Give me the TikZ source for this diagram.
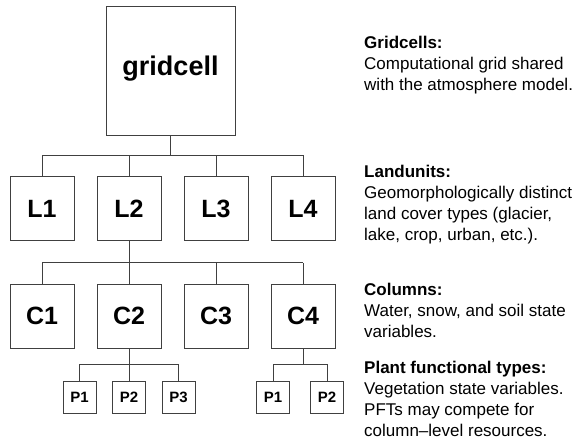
\documentclass[tikz,border=0pt]{standalone}
\usepackage{fontspec}
\setmainfont{Liberation Sans}
\usetikzlibrary{positioning}

\tikzset{
  bigbox/.style={draw=black!75,line width=1pt,minimum size=64pt,inner sep=0pt,
    font=\bfseries\fontsize{25}{30}\selectfont},
  smallbox/.style={draw=black!75,line width=1pt,minimum width=33pt,minimum height=32pt,
    inner sep=0pt,font=\bfseries\fontsize{15}{18}\selectfont},
  link/.style={draw=black!75,line width=1pt},
  desc/.style={anchor=base west,align=left,inner sep=0pt,
    font=\fontsize{17}{21}\selectfont}
}

\begin{document}
\begin{tikzpicture}[x=1pt,y=-1pt]
            \useasboundingbox (0,0) rectangle (573,442);
            % gridcell
            \node[bigbox,minimum size=129pt,font=\bfseries\fontsize{27}{30}\selectfont,
                  text height=19.7pt,text depth=9pt,anchor=north] (grid) at (170.5,5.5) {gridcell};
            % landunits
            \node[bigbox] (L1) at (42,208.8) {L1};
            \node[bigbox,right=22pt of L1] (L2) {L2};
            \node[bigbox,right=22pt of L2] (L3) {L3};
            \node[bigbox,right=22pt of L3] (L4) {L4};
            % columns
            \node[bigbox] (C1) at (42,316) {C1};
            \node[bigbox,right=22pt of C1] (C2) {C2};
            \node[bigbox,right=22pt of C2] (C3) {C3};
            \node[bigbox,right=22pt of C3] (C4) {C4};
            % pfts
            \node[smallbox] (pa1) at (79.5,397) {P1};
            \node[smallbox,right=15.5pt of pa1] (pa2) {P2};
            \node[smallbox,right=15.5pt of pa2] (pa3) {P3};
            \node[smallbox] (pb1) at (273,397) {P1};
            \node[smallbox,right=20pt of pb1] (pb2) {P2};
            % buses
            \coordinate (lbus) at (0,155);
            \coordinate (cbus) at (0,262.7);
            \coordinate (pbus) at (0,364);
            \draw[link] (grid.south) -- (grid.south |- lbus);
            \draw[link] (L1.north |- lbus) -- (L4.north |- lbus);
            \foreach \n in {L1,L2,L3,L4}
                \draw[link] (\n.north) -- (\n.north |- lbus);
            \draw[link] (L2.south) -- (L2.south |- cbus);
            \draw[link] (C1.north |- cbus) -- (C4.north |- cbus);
            \foreach \n in {C1,C2,C3,C4}
                \draw[link] (\n.north) -- (\n.north |- cbus);
            \draw[link] (C2.south) -- (C2.south |- pbus);
            \draw[link] (pa1.north |- pbus) -- (pa3.north |- pbus);
            \foreach \n in {pa1,pa2,pa3}
                \draw[link] (\n.north) -- (\n.north |- pbus);
            \draw[link] (C4.south) -- (C4.south |- pbus);
            \draw[link] (pb1.north |- pbus) -- (pb2.north |- pbus);
            \foreach \n in {pb1,pb2}
                \draw[link] (\n.north) -- (\n.north |- pbus);
            % descriptions (anchored at the baseline of the last line)
            \node[desc] (gtxt) at (364,90.5) {\textbf{Gridcells:}\\Computational grid shared\\with the atmosphere model.};
            \node[desc] (ltxt) at (364,240) {\textbf{Landunits:}\\Geomorphologically distinct\\land cover types (glacier,\\lake, crop, urban, etc.).};
            \node[desc] (ctxt) at (364,337) {\textbf{Columns:}\\Water, snow, and soil state\\variables.};
            \node[desc] (ptxt) at (364,436.3) {\textbf{Plant functional types:}\\Vegetation state variables.\\PFTs may compete for\\column--level resources.};
\end{tikzpicture}
\end{document}
